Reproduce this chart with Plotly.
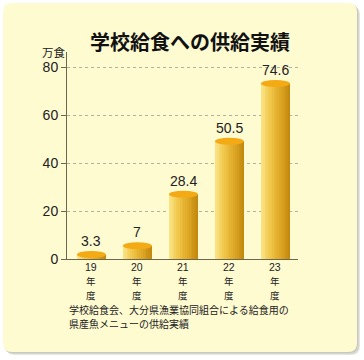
import plotly.graph_objects as go

# ---- data ----
categories = ["19", "20", "21", "22", "23"]
values = [3.3, 7, 28.4, 50.5, 74.6]
value_labels = ["3.3", "7", "28.4", "50.5", "74.6"]
tick_vals = [0, 20, 40, 60, 80]
title_text = "学校給食への供給実績"
unit_text = "万食"
note_lines = ["学校給食会、大分県漁業協同組合による給食用の", "県産魚メニューの供給実績"]

# ---- layout geometry (pixels) ----
W, H = 364, 360
L, R, T, B = 67, 66, 52, 101
PW, PH = W - L - R, H - T - B
YMAX = 86.25
BAR_W = 0.63
CAP_H = 2.9  # data units for elliptical cap

def px2paper_x(px):
    return (px - L) / PW

def px2paper_y(py):
    return (H - B - py) / PH

def lerp(c1, c2, t):
    return "rgb(%d,%d,%d)" % tuple(round(a + (b - a) * t) for a, b in zip(c1, c2))

grad = [(250, 226, 130), (240, 196, 70), (222, 168, 38), (196, 138, 16)]

def grad_color(t):
    n = len(grad) - 1
    k = min(int(t * n), n - 1)
    return lerp(grad[k], grad[k + 1], t * n - k)

fig = go.Figure()

xs = list(range(len(categories)))
body = [v - CAP_H / 2 for v in values]
N = 16
sw = BAR_W / N
for k in range(N):
    t = k / (N - 1)
    fig.add_trace(go.Bar(
        x=xs, y=body, width=[sw * 1.15] * len(xs),
        offset=[-BAR_W / 2 + k * sw] * len(xs),
        marker=dict(color=grad_color(t), line=dict(width=0)),
        hoverinfo="skip", showlegend=False,
    ))

shapes = []

def rrect_path(x0, y0, x1, y1, r):
    def P(x, y):
        return "%f,%f" % (px2paper_x(x), px2paper_y(y))
    return ("M %s L %s Q %s %s L %s Q %s %s L %s Q %s %s L %s Q %s %s Z" % (
        P(x0 + r, y0), P(x1 - r, y0), P(x1, y0), P(x1, y0 + r),
        P(x1, y1 - r), P(x1, y1), P(x1 - r, y1),
        P(x0 + r, y1), P(x0, y1), P(x0, y1 - r),
        P(x0, y0 + r), P(x0, y0), P(x0 + r, y0)))

for off, col in [(4, "rgb(230,230,224)"), (3, "rgb(214,214,206)"), (2, "rgb(200,200,192)")]:
    shapes.append(dict(type="path", xref="paper", yref="paper", layer="below",
                       path=rrect_path(3 + off - 1, 3 + off - 1, 357 + off - 1, 352 + off - 1, 9),
                       fillcolor=col, line=dict(width=0)))
shapes.append(dict(type="path", xref="paper", yref="paper", layer="below",
                   path=rrect_path(3, 3, 357, 352, 9),
                   fillcolor="#FFFBD1", line=dict(width=0)))

for i, v in enumerate(values):
    shapes.append(dict(type="circle", xref="x", yref="y",
                       x0=i - BAR_W / 2, x1=i + BAR_W / 2, y0=v - CAP_H, y1=v,
                       fillcolor="#F4AA14", line=dict(width=0), layer="above"))

annotations = []
cat_lines = [("{c}", "Liberation Sans, Arial", 10.5, -8),
             ("年", "Noto Sans CJK JP", 9.5, -21.5),
             ("度", "Noto Sans CJK JP", 9.5, -35.5)]
for i, (v, lab) in enumerate(zip(values, value_labels)):
    annotations.append(dict(x=i, y=v, xref="x", yref="y", text=lab, showarrow=False,
                            yanchor="middle", yshift=10,
                            font=dict(family="Liberation Sans, Arial", size=14, color="#222")))
    for txt, fam, sz, ys in cat_lines:
        annotations.append(dict(x=i, y=0, xref="x", yref="y",
                                text=txt.format(c=categories[i]), showarrow=False,
                                yanchor="middle", yshift=ys, borderpad=0,
                                font=dict(family=fam, size=sz, color="#222")))

annotations.append(dict(x=px2paper_x(190), y=px2paper_y(41), xref="paper", yref="paper",
                        text="<b>%s</b>" % title_text, showarrow=False, xanchor="center", yanchor="middle",
                        font=dict(family="Noto Sans CJK JP", size=20, color="#111")))
annotations.append(dict(x=px2paper_x(54), y=px2paper_y(52), xref="paper", yref="paper",
                        text=unit_text, showarrow=False, xanchor="center", yanchor="middle",
                        font=dict(family="Noto Sans CJK JP", size=11.5, color="#222")))
for j, line in enumerate(note_lines):
    annotations.append(dict(x=px2paper_x(68), y=px2paper_y(309 + 14.5 * j), xref="paper", yref="paper",
                            text=line, showarrow=False, xanchor="left", yanchor="middle", borderpad=0,
                            font=dict(family="Noto Sans CJK JP", size=10, color="#222")))

fig.update_layout(
    width=W, height=H, margin=dict(l=L, r=R, t=T, b=B, pad=0),
    paper_bgcolor="white", plot_bgcolor="rgba(0,0,0,0)",
    barmode="overlay", bargap=0,
    shapes=shapes, annotations=annotations,
    xaxis=dict(range=[-0.53, 4.49], tickvals=xs, ticktext=[""] * len(xs), showgrid=False,
               zeroline=False, showline=True, linecolor="#6e6650", linewidth=1, ticks=""),
    yaxis=dict(range=[0, YMAX], tickvals=tick_vals, ticks="outside", ticklen=5, tickcolor="#6e6650",
               showline=True, linecolor="#6e6650", linewidth=1, zeroline=False,
               showgrid=True, gridcolor="#b5b09a", griddash="dot", gridwidth=1,
               tickfont=dict(family="Liberation Sans, Arial", size=14, color="#222")),
)

fig.write_html("out.html", config={"displayModeBar": False},
               post_script="document.body.style.margin='0';document.body.style.overflow='hidden';")
